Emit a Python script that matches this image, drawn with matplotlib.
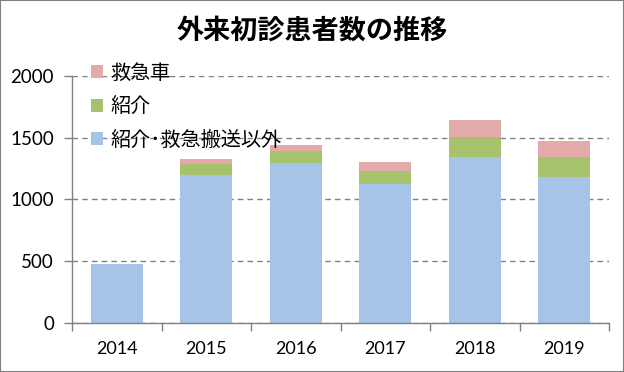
import matplotlib
matplotlib.use("Agg")
import matplotlib.pyplot as plt
import numpy as np

years = ["2014", "2015", "2016", "2017", "2018", "2019"]
other = [475, 1197, 1294, 1125, 1343, 1181]
referral = [0, 89, 98, 105, 159, 162]
ambulance = [0, 43, 48, 73, 140, 129]

labels = ["紹介･救急搬送以外", "紹介", "救急車"]
colors = ["#a6c3e8", "#a6c26c", "#e2abaa"]

plt.rcParams['font.family'] = ['Noto Sans CJK JP', 'DejaVu Sans']

fig = plt.figure(figsize=(6.24, 3.72), dpi=100)
ax = fig.add_axes([72/624, 1-323/372, (609-72)/624, (323-75.7)/372])

x = np.arange(len(years))
b1 = ax.bar(x, other, width=0.58, color=colors[0], label=labels[0], zorder=2)
b2 = ax.bar(x, referral, width=0.58, bottom=other, color=colors[1], label=labels[1], zorder=2)
bottom2 = [a + b for a, b in zip(other, referral)]
b3 = ax.bar(x, ambulance, width=0.58, bottom=bottom2, color=colors[2], label=labels[2], zorder=2)

ax.set_xlim(-0.5, len(years) - 0.5)
ax.set_ylim(0, 2000)
ax.set_yticks([0, 500, 1000, 1500, 2000])
ax.yaxis.grid(True, linestyle=(0, (4, 3)), color="#808080", linewidth=1, zorder=0)
ax.set_axisbelow(True)

ax.set_xticks(x)
ax.set_xticklabels(years, family=['Lato', 'DejaVu Sans'], fontsize=13)
ax.set_xticks(np.arange(-0.5, len(years), 1), minor=True)
ax.tick_params(axis='x', which='major', length=0, pad=13)
ax.tick_params(axis='x', which='minor', length=6, color="#808080", width=1)
ax.tick_params(axis='y', length=6, color="#808080", width=1, pad=7)
for lab in ax.get_yticklabels():
    lab.set_family(['Lato', 'DejaVu Sans'])
    lab.set_fontsize(13.5)

for s in ["top", "right"]:
    ax.spines[s].set_visible(False)
for s in ["left", "bottom"]:
    ax.spines[s].set_color("#808080")
    ax.spines[s].set_linewidth(1)

handles = [b3, b2, b1]
leg = ax.legend(handles, [labels[2], labels[1], labels[0]], loc="upper left",
                bbox_to_anchor=(0.02, 1.085), frameon=False, fontsize=14.5,
                handlelength=0.6, handleheight=0.6, handletextpad=0.36,
                labelspacing=0.62, borderaxespad=0.0)

fig.text(0.5, 1-31/372, "外来初診患者数の推移", ha="center", va="center",
         fontsize=19.5, fontweight="bold")

fig.patches.append(plt.Rectangle((0, 0), 1, 1, transform=fig.transFigure,
                                 fill=False, edgecolor="#808080", linewidth=1.5))

fig.savefig("out.png", dpi=100)
